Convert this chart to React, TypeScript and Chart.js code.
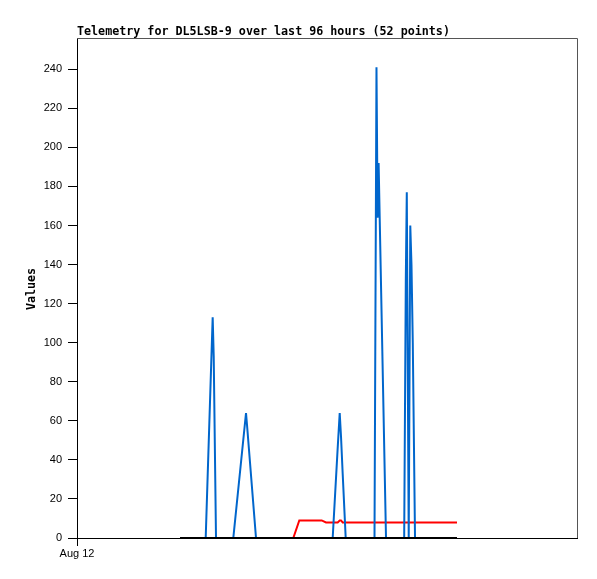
import React, { useEffect, useRef } from "react";
import { Chart, registerables } from "chart.js";

Chart.register(...registerables);

const titleText = "Telemetry for DL5LSB-9 over last 96 hours (52 points)";
const yAxisTitle = "Values";
const xTickLabel = "Aug 12";

// hours since Aug 12 00:00 (x axis spans 96 hours)
const hours = [
  19.78, 21.7, 23.62, 24.71, 26.05, 26.25, 26.69, 28.22, 30.01, 32.45,
  32.64, 34.37, 36.1, 38.02, 39.94, 41.53, 42.68, 44.74, 46.98, 47.81,
  49.09, 50.05, 50.44, 50.69, 51.01, 51.59, 53.38, 54.34, 55.3, 57.12,
  57.5, 57.72, 57.91, 59.33, 61.06, 62.82, 63.13, 63.32, 63.69, 63.99,
  64.22, 64.47, 64.9, 66.24, 67.39, 68.54, 69.7, 70.66, 71.42, 72.0,
  72.58, 72.96,
];

const blueValues = [
  0, 0, 0, 0, 113, 93, 0, 0, 0, 64,
  58, 0, 0, 0, 0, 0, 0, 0, 0, 0,
  0, 46, 64, 52, 33, 0, 0, 0, 0, 0,
  241, 164, 192, 0, 0, 0, 132, 177, 0, 160,
  140, 100, 0, 0, 0, 0, 0, 0, 0, 0,
  0, 0,
];

const redValues = [
  0, 0, 0, 0, 0, 0, 0, 0, 0, 0,
  0, 0, 0, 0, 0, 0, 9, 9, 9, 8,
  8, 8, 9, 9, 8, 8, 8, 8, 8, 8,
  8, 8, 8, 8, 8, 8, 8, 8, 8, 8,
  8, 8, 8, 8, 8, 8, 8, 8, 8, 8,
  8, 8,
];

const blackValues = [
  0, 0, 0, 0, 0, 0, 0, 0, 0, 0,
  0, 0, 0, 0, 0, 0, 0, 0, 0, 0,
  0, 0, 0, 0, 0, 0, 0, 0, 0, 0,
  0, 0, 0, 0, 0, 0, 0, 0, 0, 0,
  0, 0, 0, 0, 0, 0, 0, 0, 0, 0,
  0, 0,
];

const yTicks = [0, 20, 40, 60, 80, 100, 120, 140, 160, 180, 200, 220, 240];

const toPoints = (vals: number[]) => hours.map((h, i) => ({ x: h, y: vals[i] }));

const decorPlugin = {
  id: "decor",
  afterDraw(chart: any) {
    const { ctx, chartArea } = chart;
    ctx.save();
    // top and right frame
    ctx.strokeStyle = "#555555";
    ctx.lineWidth = 1;
    ctx.beginPath();
    ctx.moveTo(chartArea.left, chartArea.top + 0.5);
    ctx.lineTo(chartArea.right + 0.5, chartArea.top + 0.5);
    ctx.lineTo(chartArea.right + 0.5, chartArea.bottom);
    ctx.stroke();
    // title
    ctx.fillStyle = "#000000";
    ctx.font = "bold 11.7px 'DejaVu Sans Mono', 'Liberation Mono', monospace";
    ctx.textAlign = "left";
    ctx.textBaseline = "alphabetic";
    ctx.fillText(titleText, 77, 35);
    // y axis title
    ctx.translate(32, 289);
    ctx.rotate(-Math.PI / 2);
    ctx.textAlign = "center";
    ctx.textBaseline = "middle";
    ctx.fillText(yAxisTitle, 0, 0);
    ctx.restore();
  },
};

export default function App() {
  const canvasRef = useRef<HTMLCanvasElement | null>(null);

  useEffect(() => {
    if (!canvasRef.current) return;
    const chart = new Chart(canvasRef.current, {
      type: "line",
      data: {
        datasets: [
          {
            label: "black",
            data: toPoints(blackValues),
            borderColor: "#000000",
            borderWidth: 2.2,
            pointRadius: 0,
            tension: 0,
          },
          {
            label: "blue",
            data: toPoints(blueValues),
            borderColor: "#0066cc",
            borderWidth: 2,
            pointRadius: 0,
            tension: 0,
          },
          {
            label: "red",
            data: toPoints(redValues),
            borderColor: "#ff0000",
            borderWidth: 2,
            pointRadius: 0,
            tension: 0,
          },
        ],
      },
      options: {
        responsive: false,
        animation: false,
        devicePixelRatio: 1,
        layout: { padding: { left: 0, right: 20, top: 38, bottom: 0 } },
        plugins: {
          legend: { display: false },
          title: { display: false },
          tooltip: { enabled: false },
        },
        scales: {
          x: {
            type: "linear",
            min: 0,
            max: 96,
            afterBuildTicks: (scale: any) => {
              scale.ticks = [{ value: 0 }];
            },
            afterFit: (scale: any) => {
              scale.height = 41;
            },
            ticks: {
              callback: () => xTickLabel,
              color: "#000000",
              font: { family: "'Liberation Sans', Arial, sans-serif", size: 11 },
              padding: 1,
              maxRotation: 0,
              autoSkip: false,
            },
            grid: {
              drawOnChartArea: false,
              drawTicks: true,
              tickLength: 8,
              color: "#000000",
            },
            border: { display: true, color: "#000000", width: 1 },
          },
          y: {
            type: "linear",
            min: 0,
            max: 256,
            afterBuildTicks: (scale: any) => {
              scale.ticks = yTicks.map((v) => ({ value: v }));
            },
            afterFit: (scale: any) => {
              scale.width = 77;
            },
            ticks: {
              color: "#000000",
              font: { family: "'Liberation Sans', Arial, sans-serif", size: 11 },
              padding: 6,
              autoSkip: false,
            },
            grid: {
              drawOnChartArea: false,
              drawTicks: true,
              tickLength: 9,
              color: "#000000",
            },
            border: { display: true, color: "#000000", width: 1 },
          },
        },
      },
      plugins: [decorPlugin],
    });
    return () => chart.destroy();
  }, []);

  return (
    <div style={{ position: "absolute", left: 0, top: 0, width: 597, height: 579, background: "#ffffff" }}>
      <canvas ref={canvasRef} width={597} height={579} style={{ display: "block", width: 597, height: 579 }} />
    </div>
  );
}
